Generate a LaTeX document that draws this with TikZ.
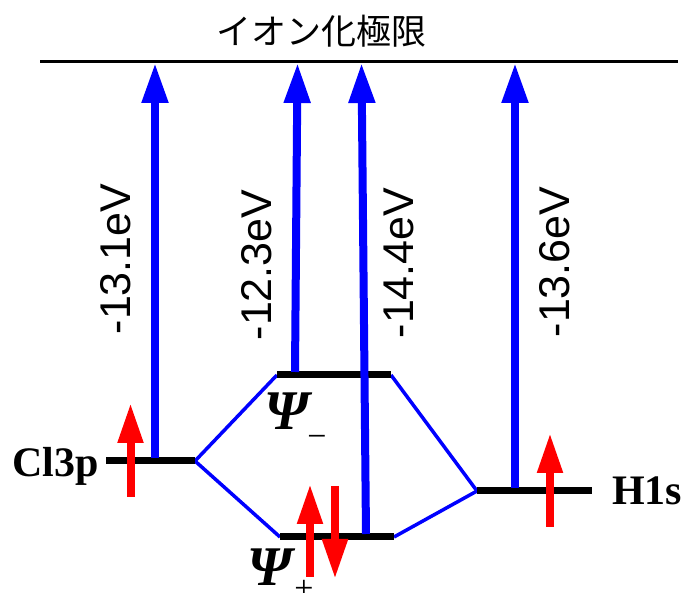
\documentclass[tikz,border=0pt]{standalone}
\usepackage{fontspec}
\setmainfont{Liberation Serif}
\newfontfamily\cjkfont{Noto Sans CJK JP}
\newfontfamily\arialfont{Liberation Sans}
\usetikzlibrary{arrows.meta}
\definecolor{eblue}{RGB}{0,0,255}
\definecolor{ered}{RGB}{255,0,0}
\tikzset{
  level/.style={line width=7pt},
  corr/.style={eblue,line width=3.5pt},
  ionarrow/.style={eblue,line width=8pt,-{Triangle[length=40pt,width=25pt]}},
  spin/.style={ered,line width=8pt,-{Triangle[length=40pt,width=24pt]}},
  evlabel/.style={font=\arialfont\fontsize{43}{43}\selectfont,rotate=90,inner sep=0pt},
  orblabel/.style={font=\bfseries\fontsize{42}{42}\selectfont,inner sep=0pt},
  psilabel/.style={font=\bfseries\itshape\fontsize{56}{56}\selectfont,inner sep=0pt},
  signlabel/.style={font=\fontsize{34}{34}\selectfont,inner sep=0pt,anchor=base}
}
\begin{document}
\begin{tikzpicture}[x=1pt,y=-1pt]
\useasboundingbox (0,0) rectangle (686,593);
% ionization limit
\coordinate (ionL) at (40,62);
\coordinate (ionR) at (678,62);
\draw[line width=3pt] (ionL) -- (ionR);
\node[font=\cjkfont\fontsize{35}{35}\selectfont,inner sep=0pt] (title) at (321,31) {イオン化極限};
% level end points
\coordinate (clL) at (106,461);
\coordinate (clR) at (195,461);
\coordinate (pmL) at (277,375);
\coordinate (pmR) at (391,375);
\coordinate (ppL) at (280,537);
\coordinate (ppR) at (394,537);
\coordinate (hL) at (477,491);
\coordinate (hR) at (592,491);
% correlation lines
\draw[corr] (clR) -- (pmL);
\draw[corr] (clR) -- (ppL);
\draw[corr] (pmR) -- (hL);
\draw[corr] (ppR) -- (hL);
% levels
\draw[level] (clL) -- (clR);
\draw[level] (pmL) -- (pmR);
\draw[level] (ppL) -- (ppR);
\draw[level] (hL) -- (hR);
% ionization arrows
\coordinate (a1s) at (155,458);
\coordinate (a1e) at (155,63);
\coordinate (a2s) at (295,372);
\coordinate (a2e) at (297.5,63);
\coordinate (a3s) at (366,534);
\coordinate (a3e) at (361.5,63);
\coordinate (a4s) at (515,488);
\coordinate (a4e) at (515,63);
\draw[ionarrow] (a1s) -- (a1e);
\draw[ionarrow] (a2s) -- (a2e);
\draw[ionarrow] (a3s) -- (a3e);
\draw[ionarrow] (a4s) -- (a4e);
% energy labels
\node[evlabel] (e1) at (116,259) {-13.1eV};
\node[evlabel] (e2) at (257,265) {-12.3eV};
\node[evlabel] (e3) at (399,263) {-14.4eV};
\node[evlabel] (e4) at (555,262) {-13.6eV};
% spins
\coordinate (s1s) at (130.5,497);
\coordinate (s1e) at (130.5,403);
\coordinate (s2s) at (550,527);
\coordinate (s2e) at (550,433);
\coordinate (s3s) at (310,577);
\coordinate (s3e) at (310,484);
\coordinate (s4s) at (335,486);
\coordinate (s4e) at (335,579);
\draw[spin] (s1s) -- (s1e);
\draw[spin] (s2s) -- (s2e);
\draw[spin] (s3s) -- (s3e);
\draw[spin] (s4s) -- (s4e);
% orbital labels
\node[orblabel,anchor=base east] (cl) at (99,477) {Cl3p};
\node[orblabel,anchor=base west] (h) at (612,505) {H1s};
\node[psilabel,anchor=base west] (psim) at (264,430) {Ψ};
\node[signlabel] (minus) at (317,448) {−};
\node[psilabel,anchor=base west] (psip) at (247,586) {Ψ};
\node[signlabel] (plus) at (304,599) {+};
\end{tikzpicture}
\end{document}
